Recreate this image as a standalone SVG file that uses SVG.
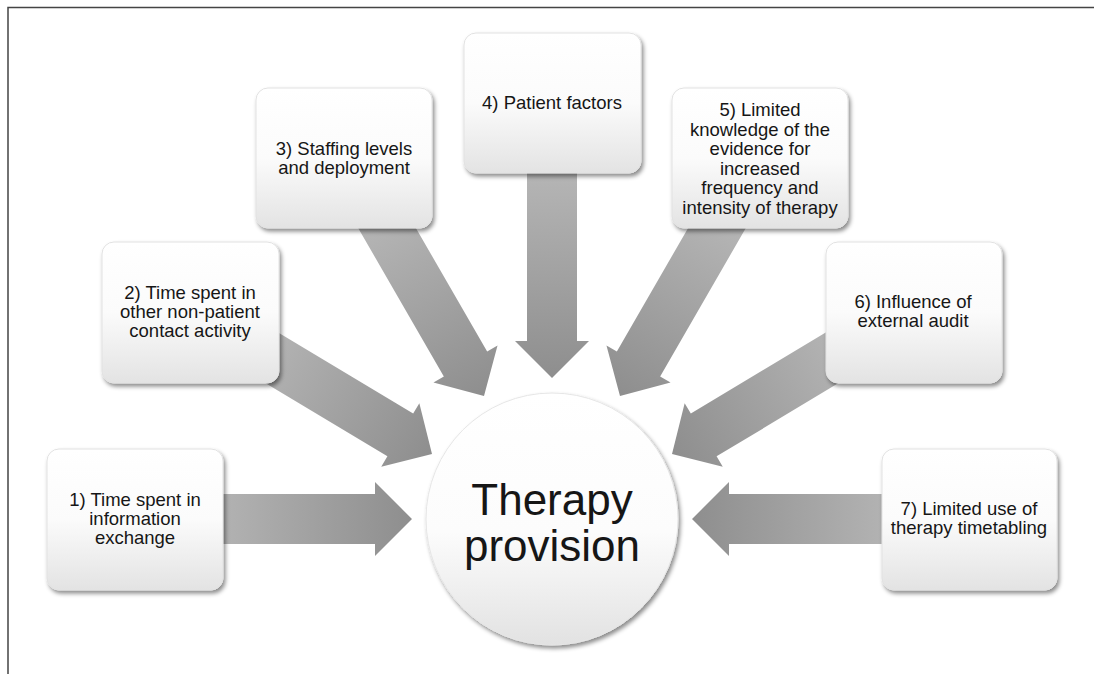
<svg xmlns="http://www.w3.org/2000/svg" width="1094" height="674" viewBox="0 0 1094 674">
  <style>
    .box { fill: url(#boxGrad); stroke: #e2e2e2; stroke-width: 1; filter: url(#shadow); }
    .lbl { font-family: "Liberation Sans", Arial, sans-serif; font-size: 18.5px; fill: #161616; text-anchor: middle; }
    .big { font-family: "Liberation Sans", Arial, sans-serif; font-size: 44px; fill: #161616; text-anchor: middle; }
    .arrow { fill: url(#arrGrad); }
  </style>
  <defs>
    <linearGradient id="boxGrad" x1="0" y1="0" x2="0" y2="1">
      <stop offset="0" stop-color="#ffffff"/>
      <stop offset="0.5" stop-color="#fbfbfb"/>
      <stop offset="1" stop-color="#e3e3e3"/>
    </linearGradient>
    <linearGradient id="circGrad" x1="0" y1="0" x2="0" y2="1">
      <stop offset="0" stop-color="#ffffff"/>
      <stop offset="0.55" stop-color="#fcfcfc"/>
      <stop offset="1" stop-color="#e2e2e2"/>
    </linearGradient>
    <linearGradient id="arrGrad" gradientUnits="userSpaceOnUse" x1="-210" y1="0" x2="0" y2="0">
      <stop offset="0" stop-color="#b6b6b6"/>
      <stop offset="1" stop-color="#8e8e8e"/>
    </linearGradient>
    <filter id="shadow" x="-10%" y="-10%" width="125%" height="130%">
      <feDropShadow dx="2" dy="3" stdDeviation="2" flood-color="#000" flood-opacity="0.45"/>
    </filter>
    <polygon id="arr" class="arrow" points="-272,-25 -37,-25 -37,-37 0,0 -37,37 -37,25 -272,25"/>
  </defs>

  <path d="M8,674 V7.5 H1094" fill="none" stroke="#444" stroke-width="1.5"/>

  <g id="connectors">
    <use href="#arr" transform="translate(412,519)"/>
    <use href="#arr" transform="translate(432,454) rotate(31)"/>
    <use href="#arr" transform="translate(484,396) rotate(60)"/>
    <use href="#arr" transform="translate(552,378) rotate(90)"/>
    <use href="#arr" transform="translate(620,396) rotate(120)"/>
    <use href="#arr" transform="translate(672,454) rotate(149)"/>
    <use href="#arr" transform="translate(692,519) rotate(180)"/>
  </g>

  <g id="n1">
    <rect class="box" x="47" y="449" width="176" height="141" rx="12"/>
    <text class="lbl" x="135" y="506">1) Time spent in</text>
    <text class="lbl" x="135" y="525">information</text>
    <text class="lbl" x="135" y="544">exchange</text>
  </g>
  <g id="n2">
    <rect class="box" x="102" y="242" width="177" height="141" rx="12"/>
    <text class="lbl" x="190" y="299">2) Time spent in</text>
    <text class="lbl" x="190" y="318">other non-patient</text>
    <text class="lbl" x="190" y="337">contact activity</text>
  </g>
  <g id="n3">
    <rect class="box" x="256" y="88" width="176" height="140" rx="12"/>
    <text class="lbl" x="344" y="155">3) Staffing levels</text>
    <text class="lbl" x="344" y="174">and deployment</text>
  </g>
  <g id="n4">
    <rect class="box" x="464" y="33" width="177" height="140" rx="12"/>
    <text class="lbl" x="552" y="109">4) Patient factors</text>
  </g>
  <g id="n5">
    <rect class="box" x="672" y="88" width="176" height="140" rx="12"/>
    <text class="lbl" x="760" y="116">5) Limited</text>
    <text class="lbl" x="760" y="135.5">knowledge of the</text>
    <text class="lbl" x="760" y="155">evidence for</text>
    <text class="lbl" x="760" y="174.5">increased</text>
    <text class="lbl" x="760" y="194">frequency and</text>
    <text class="lbl" x="760" y="213.5">intensity of therapy</text>
  </g>
  <g id="n6">
    <rect class="box" x="826" y="242" width="176" height="141" rx="12"/>
    <text class="lbl" x="913" y="308">6) Influence of</text>
    <text class="lbl" x="913" y="327">external audit</text>
  </g>
  <g id="n7">
    <rect class="box" x="882" y="449" width="175" height="141" rx="12"/>
    <text class="lbl" x="969" y="515">7) Limited use of</text>
    <text class="lbl" x="969" y="534">therapy timetabling</text>
  </g>
  <g id="center">
    <circle cx="552" cy="519" r="126" fill="url(#circGrad)" stroke="#e6e6e6" stroke-width="1" filter="url(#shadow)"/>
    <text class="big" x="552" y="515">Therapy</text>
    <text class="big" x="552" y="561">provision</text>
  </g>
</svg>
